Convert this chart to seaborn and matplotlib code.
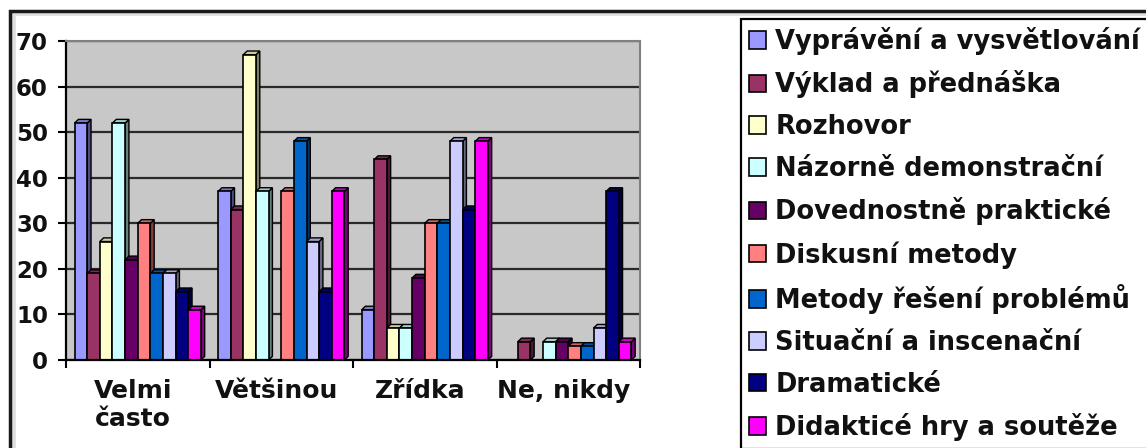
import matplotlib
matplotlib.use("Agg")
import matplotlib.pyplot as plt
from matplotlib.patches import Polygon, Rectangle
from matplotlib.colors import to_rgb
import matplotlib.transforms as mtransforms
import numpy as np
import pandas as pd
import seaborn as sns

# Frequency categories on the x axis
categories = ["Velmi\nčasto", "Většinou", "Zřídka", "Ne, nikdy"]

# Teaching methods (legend order)
methods = [
    "Vyprávění a vysvětlování",
    "Výklad a přednáška",
    "Rozhovor",
    "Názorně demonstrační",
    "Dovednostně praktické",
    "Diskusní metody",
    "Metody řešení problémů",
    "Situační a inscenační",
    "Dramatické",
    "Didakticé hry a soutěže",
]

# Values per method, one entry per category
vypraveni = [52, 37, 11, 0]
vyklad = [19, 33, 44, 4]
rozhovor = [26, 67, 7, 0]
nazorne = [52, 37, 7, 4]
dovednostne = [22, 0, 18, 4]
diskusni = [30, 37, 30, 3]
reseni = [19, 48, 30, 3]
situacni = [19, 26, 48, 7]
dramaticke = [15, 15, 33, 37]
didakticke = [11, 37, 48, 4]

series = [vypraveni, vyklad, rozhovor, nazorne, dovednostne,
          diskusni, reseni, situacni, dramaticke, didakticke]

colors = ["#9999FF", "#993366", "#FFFFCC", "#CCFFFF", "#660066",
          "#FF8080", "#0066CC", "#CCCCFF", "#000080", "#FF00FF"]

df = pd.DataFrame(
    [(c, m, v) for m, vals in zip(methods, series) for c, v in zip(categories, vals)],
    columns=["kategorie", "metoda", "hodnota"],
)

sns.set_style("white")
plt.rcParams["font.family"] = ["DejaVu Sans"]
plt.rcParams["font.weight"] = "bold"

fig = plt.figure(figsize=(11.46, 4.48), dpi=100)
ax = fig.add_axes([66 / 1146, 1 - 360 / 448, (640 - 66) / 1146, (360 - 41) / 448])

sns.barplot(
    data=df, x="kategorie", y="hodnota", hue="metoda",
    hue_order=methods, order=categories, palette=colors,
    width=0.88, errorbar=None, edgecolor="black", linewidth=1.2,
    saturation=1, ax=ax, legend=True,
)

# 3D-style side and top faces derived from each bar's geometry
for patch in list(ax.patches):
    x, w, h = patch.get_x(), patch.get_width(), patch.get_height()
    if h <= 0:
        continue
    base = np.array(to_rgb(patch.get_facecolor()))
    dx, dy = w * 0.3, 0.8
    side = Polygon([(x + w, 0), (x + w + dx, dy), (x + w + dx, h + dy), (x + w, h)],
                   closed=True, facecolor=base * 0.5, edgecolor="black",
                   linewidth=1.0, zorder=patch.get_zorder() - 0.1)
    top = Polygon([(x, h), (x + dx, h + dy), (x + w + dx, h + dy), (x + w, h)],
                  closed=True, facecolor=base * 0.8, edgecolor="black",
                  linewidth=1.0, zorder=patch.get_zorder() - 0.1)
    ax.add_patch(side)
    ax.add_patch(top)

ax.set_facecolor("#C8C8C8")
ax.set_ylim(0, 70)
ax.set_xlim(-0.5, len(categories) - 0.5)
ax.set_yticks(range(0, 71, 10))
ax.set_axisbelow(True)
ax.yaxis.grid(True, color="#2a2a2a", linewidth=1.6)
ax.xaxis.grid(False)
ax.set_xlabel("")
ax.set_ylabel("")

for side_name in ["top", "right"]:
    ax.spines[side_name].set_color("#808080")
    ax.spines[side_name].set_linewidth(1.5)
for side_name in ["left", "bottom"]:
    ax.spines[side_name].set_color("black")
    ax.spines[side_name].set_linewidth(1.6)

ax.tick_params(axis="y", which="major", length=6, width=1.5, color="black",
               pad=7, labelsize=16.5, direction="out", left=True)
ax.set_xticks(np.arange(-0.5, len(categories), 1.0), minor=True)
ax.tick_params(axis="x", which="minor", length=6, width=1.5, color="black",
               direction="out", bottom=True)
ax.tick_params(axis="x", which="major", length=0, pad=14, labelsize=18)
for lbl in ax.get_yticklabels() + ax.get_xticklabels():
    lbl.set_fontweight("bold")
    lbl.set_color("#111111")
shift = mtransforms.ScaledTranslation(-5 / 100, 0, fig.dpi_scale_trans)
for lbl in ax.get_xticklabels():
    lbl.set_transform(lbl.get_transform() + shift)

# Legend on the right
handles, labels = ax.get_legend_handles_labels()
ax.get_legend().remove()
leg = fig.legend(
    handles, labels, loc="upper left",
    bbox_to_anchor=(741 / 1146, 1 - 19 / 448),
    frameon=True, fancybox=False, framealpha=1, edgecolor="black",
    prop={"family": "DejaVu Sans", "weight": "bold", "size": 18.5},
    handlelength=0.68, handleheight=0.68, handletextpad=0.35,
    borderpad=0.3, labelspacing=0.61, borderaxespad=0,
)
leg.get_frame().set_linewidth(1.6)
for t in leg.get_texts():
    t.set_color("#111111")
for hnd in leg.legend_handles:
    hnd.set_edgecolor("black")
    hnd.set_linewidth(1.2)

# Chart frame
fig.patches.append(Rectangle((12.5 / 1146, -0.1), 1.2, (448 - 13.5) / 448 + 0.1,
                             transform=fig.transFigure, fill=False,
                             edgecolor="#E0E0E0", linewidth=3.5, zorder=0))
fig.patches.append(Rectangle((10 / 1146, -0.1), 1.2, (448 - 11) / 448 + 0.1,
                             transform=fig.transFigure, fill=False,
                             edgecolor="#1a1a1a", linewidth=2.5, zorder=0))

fig.savefig("out.png", dpi=100)
